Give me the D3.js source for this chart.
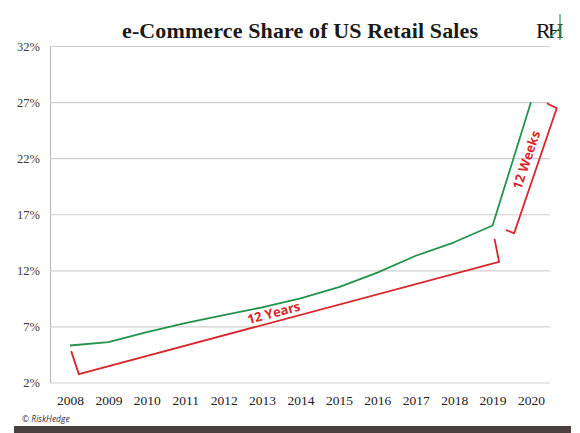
<!DOCTYPE html>
<html>
<head>
<meta charset="utf-8">
<script src="https://cdn.jsdelivr.net/npm/d3@7"></script>
<style>
  html, body { margin: 0; padding: 0; background: #fff; }
  svg { display: block; }
</style>
</head>
<body>
<svg id="chart" width="580" height="433"></svg>
<script>
// ---- data ----
const years = [2008, 2009, 2010, 2011, 2012, 2013, 2014, 2015, 2016, 2017, 2018, 2019, 2020];
const ecomShare = [5.3, 5.6, 6.5, 7.3, 8.0, 8.7, 9.5, 10.5, 11.8, 13.3, 14.5, 16.0, 27.0];
const yTicks = [2, 7, 12, 17, 22, 27, 32];
const yTickLabels = ["2%", "7%", "12%", "17%", "22%", "27%", "32%"];
// annotation brackets (year, percent)
const yearsBracket = [[2008.03, 4.8], [2008.23, 2.75], [2019.17, 12.75], [2019.05, 14.8]];
const weeksBracket = [[2019.35, 15.6], [2019.56, 15.3], [2020.67, 26.45], [2020.41, 26.9]];
const annotations = [
  { text: "12 Years", at: [2013.3, 8.25], along: yearsBracket, seg: [1, 2] },
  { text: "12 Weeks", at: [2019.87, 21.85], along: weeksBracket, seg: [1, 2] }
];
const titleText = "e-Commerce Share of US Retail Sales";

// ---- layout ----
const svg = d3.select("#chart");
const x = d3.scaleLinear().domain([2008, 2020]).range([70, 531]);
const y = d3.scaleLinear().domain([2, 32]).range([382.5, 46]);
const gridLeft = 50, gridRight = 550;

const green = "#23924a";
const red = "#d8262c";

// y axis + gridlines
const yAxis = svg.append("g")
  .attr("transform", `translate(${gridLeft},0)`)
  .call(d3.axisLeft(y)
    .tickValues(yTicks)
    .tickFormat((d, i) => yTickLabels[i])
    .tickSize(-(gridRight - gridLeft))
    .tickSizeOuter(0)
    .tickPadding(10));
yAxis.select(".domain").attr("stroke", "#bdbdbd").attr("stroke-width", 1.2);
yAxis.selectAll(".tick line").attr("stroke", "#cfcfcf").attr("stroke-width", 1.2);
yAxis.selectAll(".tick text")
  .attr("font-family", "'Liberation Serif', 'Times New Roman', serif")
  .attr("font-size", 12.5)
  .attr("fill", "#3a3a3a");

// x axis
const xAxis = svg.append("g")
  .attr("transform", `translate(0,${y(2)})`)
  .call(d3.axisBottom(x).tickValues(years).tickFormat(d3.format("d")).tickSize(0).tickPadding(13));
xAxis.select(".domain").remove();
xAxis.selectAll(".tick text")
  .attr("font-family", "'Liberation Serif', 'Times New Roman', serif")
  .attr("font-size", 13.5)
  .attr("fill", "#222");

// data line
const line = d3.line().x((d, i) => x(years[i])).y(d => y(d));
svg.append("path")
  .datum(ecomShare)
  .attr("d", line)
  .attr("fill", "none")
  .attr("stroke", green)
  .attr("stroke-width", 1.8)
  .attr("stroke-linejoin", "round");

// brackets
const bline = d3.line().x(d => x(d[0])).y(d => y(d[1]));
[yearsBracket, weeksBracket].forEach(b => {
  svg.append("path")
    .attr("d", bline(b))
    .attr("fill", "none")
    .attr("stroke", red)
    .attr("stroke-width", 1.8)
    .attr("stroke-linejoin", "miter");
});

// annotation labels
annotations.forEach(a => {
  const p1 = a.along[a.seg[0]], p2 = a.along[a.seg[1]];
  const ang = Math.atan2(y(p2[1]) - y(p1[1]), x(p2[0]) - x(p1[0])) * 180 / Math.PI;
  svg.append("text")
    .attr("transform", `translate(${x(a.at[0])},${y(a.at[1])}) rotate(${ang})`)
    .attr("text-anchor", "middle")
    .attr("dominant-baseline", "central")
    .attr("font-family", "'Open Sans', 'Noto Sans', sans-serif")
    .attr("font-weight", "bold")
    .attr("font-size", 13)
    .attr("fill", red)
    .text(a.text);
});

// title
svg.append("text")
  .attr("x", 300).attr("y", 38)
  .attr("text-anchor", "middle")
  .attr("font-family", "'Liberation Serif', 'Times New Roman', serif")
  .attr("font-weight", "bold")
  .attr("font-size", 22)
  .attr("textLength", 356)
  .attr("lengthAdjust", "spacing")
  .attr("fill", "#1a1a1a")
  .text(titleText);

// logo
const logo = svg.append("g");
logo.append("text")
  .attr("x", 536).attr("y", 38)
  .attr("font-family", "'Liberation Serif', 'Times New Roman', serif")
  .attr("font-size", 22)
  .attr("fill", "#111")
  .attr("letter-spacing", -3)
  .text("RH");
logo.append("path")
  .attr("d", "M560,14 L560,40 M549,38 L560,28")
  .attr("stroke", "#3aa66a").attr("stroke-width", 1.3).attr("fill", "none");

// footer
svg.append("text")
  .attr("x", 22).attr("y", 422)
  .attr("font-family", "'Open Sans', 'Noto Sans', sans-serif")
  .attr("font-style", "italic")
  .attr("font-size", 8.5)
  .attr("fill", "#333")
  .text("© RiskHedge");
svg.append("rect")
  .attr("x", 14).attr("y", 426).attr("width", 557).attr("height", 7)
  .attr("fill", "#4a4040");
</script>
</body>
</html>
